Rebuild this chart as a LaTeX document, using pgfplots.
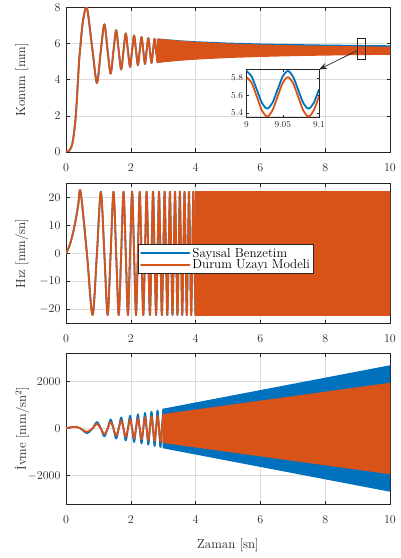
\documentclass[border=0pt]{standalone}
\usepackage{pgfplots}
\pgfplotsset{compat=1.18}
\usepackage{pgfplotstable}
\usetikzlibrary{arrows.meta}
\definecolor{mblue}{rgb}{0,0.447,0.741}
\definecolor{morange}{rgb}{0.851,0.325,0.098}
\definecolor{axgray}{gray}{0.15}
\definecolor{gridgray}{gray}{0.86}

\pgfplotstableread{
t x
0 0
0.1 0.08
0.2 0.5
0.3 1.95
0.4 4.9
0.45 5.95
0.52 7.2
0.645 7.97
0.819 5.6
0.955 3.82
1.075 5.6
1.184 7.06
1.285 5.6
1.378 4.335
1.466 5.6
1.548 6.733
1.627 5.6
1.703 4.566
1.775 5.6
1.845 6.558
1.912 5.6
1.977 4.704
2.040 5.6
2.101 6.445
2.161 5.6
2.219 4.798
2.275 5.6
2.331 6.365
2.385 5.6
2.438 4.868
2.489 5.6
2.540 6.304
2.590 5.6
2.639 4.922
2.687 5.6
2.734 6.255
2.780 5.6
2.826 4.966
}\posdata

\pgfplotstableread{
t v
0 0
0.1 2.5
0.2 6.5
0.3 12
0.38 17.5
0.450 22
0.645 0
0.819 -22
0.955 0
1.075 22
1.184 0
1.285 -22
1.378 0
1.466 22
1.548 0
1.627 -22
1.703 0
1.775 22
1.845 0
1.912 -22
1.977 0
2.040 22
2.101 0
2.161 -22
2.219 0
2.275 22
2.331 0
2.385 -22
2.438 0
2.489 22
2.540 0
2.590 -22
2.639 0
2.687 22
2.734 0
2.780 -22
2.826 0
2.871 22
2.915 0
2.959 -22
3.002 0
3.044 22
3.086 0
3.127 -22
3.168 0
3.208 22
3.248 0
3.287 -22
3.326 0
3.365 22
3.403 0
3.440 -22
3.478 0
3.514 22
3.551 0
3.587 -22
3.623 0
3.658 22
3.693 0
3.728 -22
3.762 0
3.796 22
3.830 0
3.864 -22
3.897 0
3.930 22
3.962 0
3.995 -22
}\veldata

\pgfplotstableread{
t b o
0 0 0
0.1 40 40
0.2 60 60
0.3 70 70
0.450 0 0
0.645 -193.5 -139.3
0.819 0 0
0.955 271.5 195.5
1.075 0 0
1.184 -331.6 -238.8
1.285 0 0
1.378 382.6 275.5
1.466 0 0
1.548 -427.2 -307.6
1.627 0 0
1.703 467.9 336.9
1.775 0 0
1.845 -505.2 -363.7
1.912 0 0
1.977 539.9 388.7
2.040 0 0
2.101 -572.4 -412.1
2.161 0 0
2.219 603.4 434.4
2.275 0 0
2.331 -632.8 -455.6
2.385 0 0
2.438 660.9 475.8
2.489 0 0
2.540 -687.7 -495.1
2.590 0 0
2.639 713.7 513.9
2.687 0 0
2.734 -738.6 -531.8
2.780 0 0
2.826 762.8 549.2
2.871 0 0
2.915 -786.2 -566.1
2.959 0 0
3.002 809.0 582.5
}\accdata

\pgfplotstableread{
t b o
9.0000 5.880 5.810
9.0071 5.817 5.744
9.0143 5.665 5.585
9.0214 5.513 5.426
9.0285 5.450 5.360
9.0356 5.513 5.426
9.0428 5.665 5.585
9.0499 5.817 5.744
9.0570 5.880 5.810
9.0641 5.817 5.744
9.0713 5.665 5.585
9.0784 5.513 5.426
9.0855 5.450 5.360
9.0926 5.513 5.426
9.1000 5.670 5.592
}\insetdata

\pgfplotsset{
  mstyle/.style={
    scale only axis, width=324pt, xmin=0, xmax=10, xtick={0,2,4,6,8,10},
    anchor=south west,
    grid=major, major grid style={gridgray, line width=0.5pt},
    axis line style={axgray, line width=0.6pt},
    tick style={axgray, line width=0.6pt},
    tick align=inside, major tick length=3.5pt,
    tick label style={font=\fontsize{12.5}{14}\selectfont, text=axgray},
    xticklabel style={yshift=-8pt},
    yticklabel style={xshift=-2pt},
    label style={font=\fontsize{13}{15}\selectfont, text=axgray},
    ylabel style={at={(axis description cs:-0.136,0.5)}, anchor=center},
    /pgf/number format/1000 sep={},
    scaled y ticks=false,
    legend image code/.code={\draw[#1, line width=2.4pt] (0pt,0pt) -- (48pt,0pt);},
  },
  lb/.style={mblue, line width=1.8pt, smooth, tension=0.5, line join=round, line cap=round},
  lo/.style={morange, line width=1.8pt, smooth, tension=0.5, line join=round, line cap=round},
}

\begin{document}
\begin{tikzpicture}
\path[use as bounding box] (0,0) rectangle (400pt,558pt);

% ---------------- top: position
\begin{axis}[mstyle, at={(66pt,406pt)}, height=144.7pt,
  ymin=0, ymax=8, ytick={0,2,4,6,8}, ylabel={Konum [mm]}]
\addplot[lb] table[x=t,y=x]{\posdata};
\addplot[mblue, fill=mblue, line width=1.5pt, line join=round, forget plot] coordinates {
 (2.826,6.234) (3,6.208) (3.5,6.135) (4,6.082) (5,6.008) (6,5.958) (7,5.925) (8,5.898) (9,5.878) (10,5.858)
 (10,5.492) (9,5.472) (8,5.442) (7,5.405) (6,5.352) (5,5.282) (4,5.178) (3.5,5.105) (3,5.012) (2.826,4.966) (2.826,6.234)};
\addplot[lo] table[x=t,y=x]{\posdata};
\addplot[morange, fill=morange, line width=1.5pt, line join=round, forget plot] coordinates {
 (2.826,6.234) (3,6.198) (3.5,6.115) (4,6.052) (5,5.963) (6,5.903) (7,5.86) (8,5.828) (9,5.803) (10,5.783)
 (10,5.417) (9,5.397) (8,5.372) (7,5.34) (6,5.297) (5,5.237) (4,5.148) (3.5,5.085) (3,5.002) (2.826,4.966) (2.826,6.234)};
\draw[axgray, line width=0.6pt] (axis cs:9.0,5.13) rectangle (axis cs:9.23,6.29);
\draw[axgray, line width=0.7pt, -{Stealth[length=8pt,width=6pt]}] (axis cs:9.0,5.62) -- (axis cs:7.81,4.56);
\end{axis}

% inset
\begin{axis}[at={(246.5pt,440.7pt)}, anchor=south west, scale only axis,
  width=72.5pt, height=48pt, xmin=9, xmax=9.1, ymin=5.35, ymax=5.9,
  xtick={9,9.05,9.1}, ytick={5.4,5.6,5.8},
  axis line style={axgray, line width=0.6pt},
  tick style={axgray, line width=0.5pt}, tick align=inside, major tick length=2.5pt,
  tick label style={font=\fontsize{9.5}{10}\selectfont, text=axgray},
  xticklabel style={yshift=-1pt},
  yticklabel style={/pgf/number format/fixed, /pgf/number format/precision=1, /pgf/number format/fixed zerofill},
  xticklabel style={/pgf/number format/fixed, /pgf/number format/precision=2}]
\addplot[mblue, line width=1.8pt, smooth, line join=round] table[x=t,y=b]{\insetdata};
\addplot[morange, line width=1.8pt, smooth, line join=round] table[x=t,y=o]{\insetdata};
\end{axis}

% ---------------- middle: velocity
\begin{axis}[mstyle, at={(66pt,234.5pt)}, height=140.2pt,
  ymin=-25, ymax=25, ytick={-20,-10,0,10,20}, ylabel={Hız [mm/sn]},
  legend style={at={(axis description cs:0.494,0.46)}, anchor=center,
    font=\fontsize{13}{15}\selectfont, draw=axgray, fill=white, line width=0.5pt,
    inner sep=1.5pt, row sep=-3pt, cells={anchor=west}}]
\addplot[lb] table[x=t,y=v]{\veldata};
\addlegendentry{Sayısal Benzetim}
\addplot[mblue, fill=mblue, line width=1.5pt, forget plot] coordinates {
 (3.995,22) (10,22) (10,-22) (3.995,-22) (3.995,22)};
\addplot[lo] table[x=t,y=v]{\veldata};
\addlegendentry{Durum Uzayı Modeli}
\addplot[morange, fill=morange, line width=1.5pt, forget plot] coordinates {
 (3.995,22) (10,22) (10,-22) (3.995,-22) (3.995,22)};
\end{axis}

% ---------------- bottom: acceleration
\begin{axis}[mstyle, at={(66pt,54pt)}, height=151pt,
  ymin=-3200, ymax=3200, ytick={-2000,0,2000}, ylabel={İvme [mm/sn$^2$]},
  xlabel={Zaman [sn]},
  xlabel style={at={(axis description cs:0.5,-0.272)}, anchor=center}]
\addplot[lb] table[x=t,y=b]{\accdata};
\addplot[mblue, fill=mblue, line width=1.5pt, forget plot] coordinates {
 (3.002,809) (10,2647) (10,-2647) (3.002,-809) (3.002,809)};
\addplot[lo] table[x=t,y=o]{\accdata};
\addplot[morange, fill=morange, line width=1.5pt, forget plot] coordinates {
 (3.002,582.5) (10,1906) (10,-1906) (3.002,-582.5) (3.002,582.5)};
\end{axis}
\end{tikzpicture}
\end{document}
